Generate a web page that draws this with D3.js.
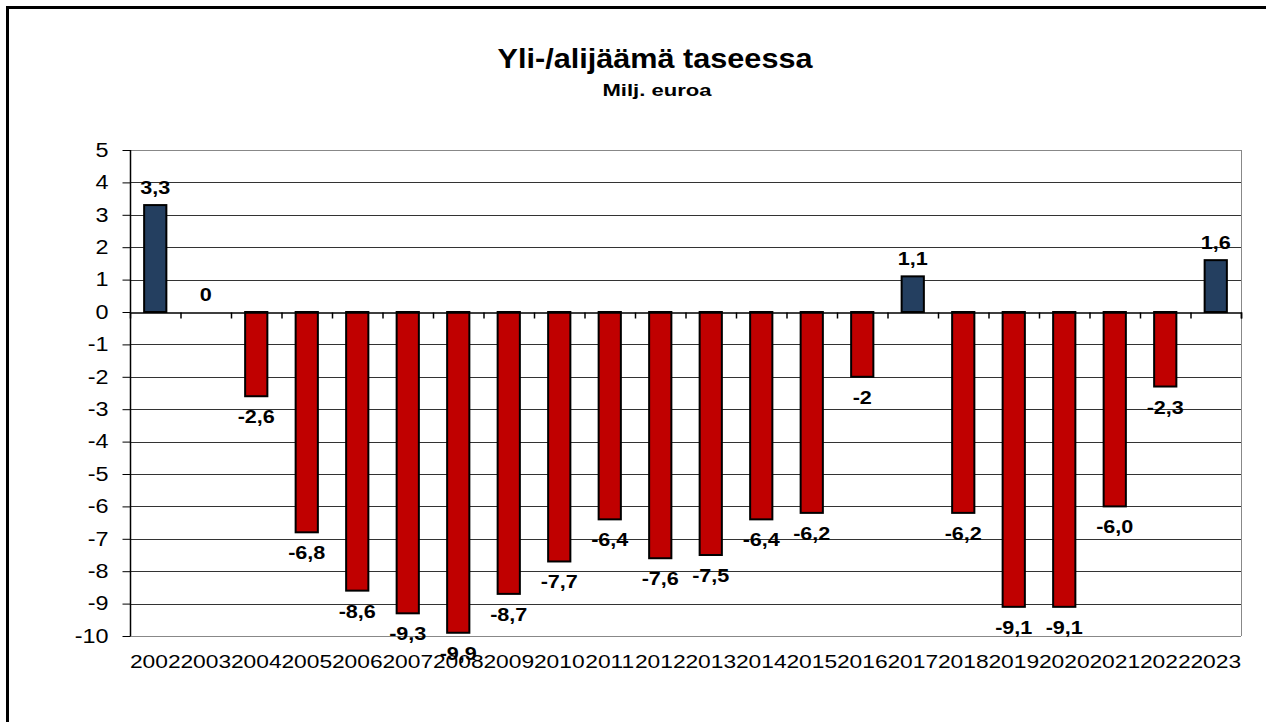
<!DOCTYPE html>
<meta charset="utf-8" />
<title>Yli-/alijäämä taseessa</title>
<script src="https://d3js.org/d3.v7.min.js"></script>
<style>
  body { margin: 0; background: #fff; }
  svg { display: block; font-family: "Liberation Sans", Arial, sans-serif; }
</style>
<div id="chart"></div>
<script>
  var width = 1266, height = 722;

  // years on the x axis
  var years = ["2002", "2003", "2004", "2005", "2006", "2007", "2008", "2009", "2010", "2011", "2012",
               "2013", "2014", "2015", "2016", "2017", "2018", "2019", "2020", "2021", "2022", "2023"];
  // surplus / deficit, milj. euroa
  var values = [3.3, 0, -2.6, -6.8, -8.6, -9.3, -9.9, -8.7, -7.7, -6.4, -7.6,
                -7.5, -6.4, -6.2, -2, 1.1, -6.2, -9.1, -9.1, -6.0, -2.3, 1.6];
  // data labels as printed on the chart
  var labels = ["3,3", "0", "-2,6", "-6,8", "-8,6", "-9,3", "-9,9", "-8,7", "-7,7", "-6,4", "-7,6",
                "-7,5", "-6,4", "-6,2", "-2", "1,1", "-6,2", "-9,1", "-9,1", "-6,0", "-2,3", "1,6"];
  var yTicks = [5, 4, 3, 2, 1, 0, -1, -2, -3, -4, -5, -6, -7, -8, -9, -10];

  var data = years.map((d, i) => ({ year: d, value: values[i], label: labels[i] }));

  var plot = { left: 130, right: 1241, top: 150, bottom: 636 };
  var stretch = 1.2; // the source text is drawn a bit wider than normal

  var svg = d3.select("#chart").append("svg")
    .attr("width", width)
    .attr("height", height);

  // outer frame (runs off the right and bottom of the picture)
  svg.append("rect")
    .attr("x", 7.5).attr("y", 7.5)
    .attr("width", 1300).attr("height", 800)
    .attr("fill", "none")
    .attr("stroke", "#000")
    .attr("stroke-width", 3);

  // titles
  svg.append("text")
    .attr("x", 655).attr("y", 68)
    .attr("text-anchor", "middle")
    .attr("font-size", 28).attr("font-weight", "bold")
    .attr("textLength", 315).attr("lengthAdjust", "spacingAndGlyphs")
    .text("Yli-/alijäämä taseessa");
  svg.append("text")
    .attr("x", 657).attr("y", 96)
    .attr("text-anchor", "middle")
    .attr("font-size", 16.5).attr("font-weight", "bold")
    .attr("textLength", 109).attr("lengthAdjust", "spacingAndGlyphs")
    .text("Milj. euroa");

  var x = d3.scaleBand()
    .domain(years)
    .range([plot.left, plot.right])
    .paddingInner(0.56)
    .paddingOuter(0.28);

  var y = d3.scaleLinear()
    .domain([-10, 5])
    .range([plot.bottom, plot.top]);

  // grid lines
  svg.append("g")
    .selectAll("line")
    .data(yTicks.filter(d => d !== 0))
    .join("line")
    .attr("x1", plot.left).attr("x2", plot.right)
    .attr("y1", d => Math.round(y(d)) + 0.5)
    .attr("y2", d => Math.round(y(d)) + 0.5)
    .attr("stroke", d => (d === 5 || d === -10) ? "#888" : "#333")
    .attr("stroke-width", 1);

  // right border of plot area
  svg.append("line")
    .attr("x1", plot.right + 0.5).attr("x2", plot.right + 0.5)
    .attr("y1", plot.top).attr("y2", plot.bottom)
    .attr("stroke", "#888");

  // bars
  svg.append("g")
    .selectAll("rect")
    .data(data.filter(d => d.value !== 0))
    .join("rect")
    .attr("x", d => x(d.year))
    .attr("width", x.bandwidth())
    .attr("y", d => y(Math.max(0, d.value)))
    .attr("height", d => Math.abs(y(d.value) - y(0)))
    .attr("fill", d => d.value > 0 ? "#243F60" : "#C00000")
    .attr("stroke", "#000")
    .attr("stroke-width", 2);

  // zero axis with ticks between categories
  var idx = d3.scaleLinear().domain([0, years.length]).range([plot.left, plot.right]);
  var zeroAxis = svg.append("g")
    .attr("transform", `translate(0,${Math.round(y(0)) + 0.5})`)
    .call(d3.axisBottom(idx).tickValues(d3.range(1, years.length + 1)).tickSize(6).tickFormat(""));
  zeroAxis.select(".domain").attr("stroke", "#000").attr("stroke-width", 1.5);
  zeroAxis.selectAll(".tick line").attr("stroke", "#000").attr("stroke-width", 1.5);

  // y axis
  var yAxis = svg.append("g")
    .attr("transform", `translate(${plot.left + 0.5},0)`)
    .call(d3.axisLeft(y).tickValues(yTicks).tickSize(8).tickPadding(14).tickFormat(d => String(d)));
  yAxis.select(".domain").attr("stroke", "#000").attr("stroke-width", 1.5).attr("d", `M0,${plot.top}V${plot.bottom}`);
  yAxis.selectAll(".tick line").attr("stroke", "#000");
  yAxis.selectAll(".tick text")
    .attr("font-size", 19.5)
    .attr("fill", "#000")
    .attr("font-family", "Liberation Sans, Arial, sans-serif")
    .attr("x", -22 / stretch)
    .attr("transform", `scale(${stretch},1)`);

  // x axis labels
  var xAxis = svg.append("g")
    .attr("transform", `translate(0,${plot.bottom})`)
    .call(d3.axisBottom(x).tickSize(0).tickPadding(0));
  xAxis.select(".domain").remove();
  xAxis.selectAll(".tick text")
    .attr("font-size", 19)
    .attr("fill", "#000")
    .attr("font-family", "Liberation Sans, Arial, sans-serif")
    .attr("dy", null)
    .attr("y", 32)
    .attr("transform", `scale(${stretch},1)`);

  // data labels
  svg.append("g")
    .selectAll("text")
    .data(data)
    .join("text")
    .attr("text-anchor", "middle")
    .attr("font-size", 18)
    .attr("font-weight", "bold")
    .attr("transform", d => {
      var cx = x(d.year) + x.bandwidth() / 2;
      var ty = d.value >= 0 ? y(d.value) - 11 : y(d.value) + 27;
      return `translate(${cx},${ty}) scale(${stretch},1)`;
    })
    .text(d => d.label);
</script>
